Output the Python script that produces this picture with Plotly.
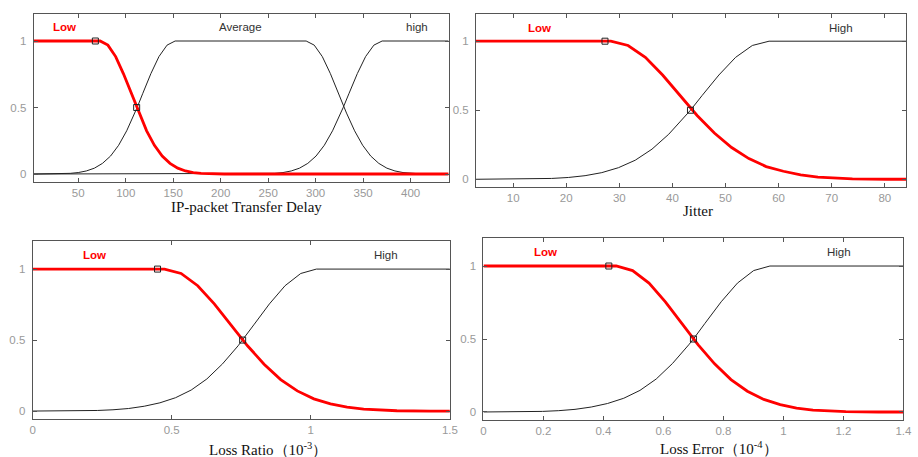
import plotly.graph_objects as go

W, H = 918, 457

# ---------------- data ----------------
# Panel 1: IP-packet Transfer Delay
delay_low_x = [3, 73, 81.2, 89.4, 97.5, 105.7, 111.5, 113.9, 122, 130.2, 138.4, 146.6, 154.8, 162.9, 171.1, 179.3, 187.5, 203.8, 440]
delay_low_y = [1, 1, 0.969, 0.883, 0.755, 0.607, 0.5, 0.458, 0.325, 0.216, 0.135, 0.080, 0.044, 0.023, 0.011, 0.005, 0.002, 0.0, 0]
delay_avg_x = [3, 30, 41.5, 50, 58.5, 67, 75.5, 84, 92.5, 101, 109.5, 112, 118, 126.5, 135, 143.5, 152,
               290, 298.5, 307, 315.5, 324, 330, 332.5, 341, 349.5, 358, 366.5, 375, 383.5, 392, 400.5, 409, 426, 440]
delay_avg_y = [0, 0.001, 0.005, 0.011, 0.023, 0.044, 0.080, 0.135, 0.216, 0.325, 0.458, 0.5, 0.607, 0.755, 0.883, 0.969, 1,
               1, 0.969, 0.883, 0.755, 0.607, 0.5, 0.458, 0.325, 0.216, 0.135, 0.080, 0.044, 0.023, 0.011, 0.005, 0.002, 0, 0]
delay_high_x = [3, 230.8, 248.2, 256.9, 265.6, 274.3, 283, 291.7, 300.4, 309.1, 317.8, 326.5, 329, 335.2, 343.9, 352.6, 361.3, 370, 440]
delay_high_y = [0, 0.0003, 0.002, 0.005, 0.011, 0.023, 0.044, 0.080, 0.135, 0.216, 0.325, 0.458, 0.5, 0.607, 0.755, 0.883, 0.969, 1, 1]
delay_mark_x = [68, 111.5]
delay_mark_y = [1, 0.5]

# Panel 2: Jitter
jit_low_x = [3, 28.4, 31.65, 34.9, 38.15, 41.4, 43.7, 44.65, 47.9, 51.15, 54.4, 57.65, 60.9, 64.15, 67.4, 70.65, 73.9, 80.4, 84]
jit_low_y = [1, 1, 0.969, 0.883, 0.755, 0.607, 0.5, 0.462, 0.335, 0.23, 0.15, 0.092, 0.058, 0.032, 0.016, 0.007, 0.003, 0.0, 0]
jit_high_x = [3, 7.8, 14.1, 17.25, 20.4, 23.55, 26.7, 29.85, 33, 36.15, 39.3, 42.45, 43.4, 45.6, 48.75, 51.9, 55.05, 58.2, 84]
jit_high_y = [0, 0.0003, 0.003, 0.006, 0.013, 0.026, 0.048, 0.084, 0.138, 0.218, 0.326, 0.458, 0.5, 0.607, 0.755, 0.883, 0.969, 1, 1]
jit_mark_x = [27.3, 43.4]
jit_mark_y = [1, 0.5]

# Panel 3: Loss Ratio (1e-3)
lr_low_x = [0, 0.474, 0.5337, 0.5934, 0.653, 0.7127, 0.755, 0.7724, 0.832, 0.8917, 0.9514, 1.011, 1.0708, 1.1304, 1.1901, 1.2498, 1.3095, 1.4288, 1.5]
lr_low_y = [1, 1, 0.969, 0.883, 0.755, 0.607, 0.5, 0.46, 0.33, 0.222, 0.142, 0.086, 0.05, 0.027, 0.013, 0.006, 0.002, 0.0, 0]
lr_high_x = [0, 0.12, 0.2325, 0.2888, 0.345, 0.4013, 0.4575, 0.5138, 0.57, 0.6263, 0.6825, 0.7388, 0.755, 0.795, 0.8513, 0.9075, 0.9638, 1.02, 1.5]
lr_high_y = [0, 0.0005, 0.004, 0.009, 0.018, 0.034, 0.058, 0.094, 0.148, 0.226, 0.332, 0.46, 0.5, 0.607, 0.755, 0.883, 0.969, 1, 1]
lr_mark_x = [0.449, 0.755]
lr_mark_y = [1, 0.5]

# Panel 4: Loss Error (1e-4)
le_low_x = [0, 0.4425, 0.4972, 0.5519, 0.6065, 0.6612, 0.70, 0.7159, 0.7706, 0.8252, 0.8799, 0.9346, 0.9893, 1.0439, 1.0986, 1.1533, 1.208, 1.3173, 1.4]
le_low_y = [1, 1, 0.969, 0.883, 0.755, 0.607, 0.5, 0.46, 0.33, 0.222, 0.142, 0.086, 0.05, 0.027, 0.013, 0.006, 0.002, 0.0, 0]
le_high_x = [0, 0.0886, 0.1969, 0.251, 0.3052, 0.3594, 0.4135, 0.4677, 0.5218, 0.576, 0.6301, 0.6843, 0.70, 0.7384, 0.7926, 0.8467, 0.9009, 0.955, 1.4]
le_high_y = [0, 0.0005, 0.004, 0.009, 0.018, 0.034, 0.058, 0.094, 0.148, 0.226, 0.332, 0.46, 0.5, 0.607, 0.755, 0.883, 0.969, 1, 1]
le_mark_x = [0.418, 0.70]
le_mark_y = [1, 0.5]

# tick values
delay_ticks = [50, 100, 150, 200, 250, 300, 350, 400]
jit_ticks = [10, 20, 30, 40, 50, 60, 70, 80]
lr_ticks = [0, 0.5, 1, 1.5]
lr_ticktext = ["0", "0.5", "1", "1.5"]
le_ticks = [0, 0.2, 0.4, 0.6, 0.8, 1.0, 1.2, 1.4]
le_ticktext = ["0", "0.2", "0.4", "0.6", "0.8", "1", "1.2", "1.4"]
y_ticks = [0, 0.5, 1]
y_ticktext = ["0", "0.5", "1"]

titles = ["IP-packet Transfer Delay", "Jitter", "Loss Ratio（10<sup>-3</sup>）", "Loss Error（10<sup>-4</sup>）"]

# ---------------- layout geometry (pixels) ----------------
panels = [
    dict(l=31, r=451, t=14, b=182, xr=[3, 440], yr=[-0.06, 1.203]),
    dict(l=478.7, r=914, t=14, b=187, xr=[3, 84], yr=[-0.056, 1.197]),
    dict(l=30, r=452.3, t=240.7, b=419, xr=[0, 1.5], yr=[-0.056, 1.2]),
    dict(l=486.3, r=911.3, t=238, b=420.3, xr=[0, 1.4], yr=[-0.057, 1.192]),
]

fig = go.Figure()

black_sets = [
    [(delay_avg_x, delay_avg_y), (delay_high_x, delay_high_y)],
    [(jit_high_x, jit_high_y)],
    [(lr_high_x, lr_high_y)],
    [(le_high_x, le_high_y)],
]
red_sets = [(delay_low_x, delay_low_y), (jit_low_x, jit_low_y), (lr_low_x, lr_low_y), (le_low_x, le_low_y)]
mark_sets = [(delay_mark_x, delay_mark_y), (jit_mark_x, jit_mark_y), (lr_mark_x, lr_mark_y), (le_mark_x, le_mark_y)]

for i in range(4):
    xa = "x" if i == 0 else f"x{i+1}"
    ya = "y" if i == 0 else f"y{i+1}"
    for bx, by in black_sets[i]:
        fig.add_trace(go.Scatter(x=bx, y=by, mode="lines", line=dict(color="#222222", width=1),
                                 xaxis=xa, yaxis=ya, showlegend=False, hoverinfo="skip"))
    rx, ry = red_sets[i]
    fig.add_trace(go.Scatter(x=rx, y=ry, mode="lines", line=dict(color="#ff0000", width=2.8),
                             xaxis=xa, yaxis=ya, showlegend=False, hoverinfo="skip"))
    mx, my = mark_sets[i]
    fig.add_trace(go.Scatter(x=mx, y=my, mode="markers",
                             marker=dict(symbol="square-open", size=6, color="#222222", line=dict(width=1)),
                             xaxis=xa, yaxis=ya, showlegend=False, hoverinfo="skip"))

xticks = [(delay_ticks, [str(v) for v in delay_ticks]), (jit_ticks, [str(v) for v in jit_ticks]),
          (lr_ticks, lr_ticktext), (le_ticks, le_ticktext)]

tickfont = dict(family="Liberation Sans, Arial", size=11.5, color="#999999")
for i, p in enumerate(panels):
    sx = "xaxis" if i == 0 else f"xaxis{i+1}"
    sy = "yaxis" if i == 0 else f"yaxis{i+1}"
    ya = "y" if i == 0 else f"y{i+1}"
    xa = "x" if i == 0 else f"x{i+1}"
    tv, tt = xticks[i]
    fig.update_layout(**{
        sx: dict(domain=[p["l"] / W, p["r"] / W], range=p["xr"], anchor=ya,
                 tickvals=tv, ticktext=tt, ticks="inside", ticklen=4, tickcolor="#555555",
                 showline=True, linecolor="#555555", linewidth=1, mirror="ticks",
                 showgrid=False, zeroline=False, tickfont=tickfont, fixedrange=True),
        sy: dict(domain=[1 - p["b"] / H, 1 - p["t"] / H], range=p["yr"], anchor=xa,
                 tickvals=y_ticks, ticktext=y_ticktext, ticks="inside", ticklen=4, tickcolor="#555555",
                 showline=True, linecolor="#555555", linewidth=1, mirror="ticks", ticklabelstandoff=4,
                 showgrid=False, zeroline=False, tickfont=tickfont, fixedrange=True),
    })

# MF labels
labels = [
    (1, 35.4, 1.105, "Low", "#ff0000"), (1, 220.5, 1.105, "Average", "#333333"), (1, 406.5, 1.105, "high", "#333333"),
    (2, 14.95, 1.099, "Low", "#ff0000"), (2, 71.7, 1.099, "High", "#333333"),
    (3, 0.221, 1.10, "Low", "#ff0000"), (3, 1.27, 1.10, "High", "#333333"),
    (4, 0.2055, 1.096, "Low", "#ff0000"), (4, 1.187, 1.096, "High", "#333333"),
]
for k, x, y, txt, col in labels:
    xr = "x" if k == 1 else f"x{k}"
    yr = "y" if k == 1 else f"y{k}"
    weight = "bold" if col == "#ff0000" else "normal"
    fig.add_annotation(x=x, y=y, xref=xr, yref=yr, text=txt, showarrow=False,
                       font=dict(family="Liberation Sans, Arial", size=11.5, color=col, weight=weight))

# axis titles
title_pos = [(246, 207), (703.7, 211), (268.7, 448.5), (725, 447.5)]
for (cx, cy), t in zip(title_pos, titles):
    fig.add_annotation(x=cx / W, y=1 - cy / H, xref="paper", yref="paper", text=t, showarrow=False,
                       xanchor="center", yanchor="middle",
                       font=dict(family="Liberation Serif, Times New Roman, serif", size=15, color="#111111"))

fig.update_layout(width=W, height=H, margin=dict(l=0, r=0, t=0, b=0),
                  paper_bgcolor="white", plot_bgcolor="white")

fig.write_html("out.html", config={"displayModeBar": False},
               post_script="document.body.style.margin='0';document.body.style.padding='0';")
